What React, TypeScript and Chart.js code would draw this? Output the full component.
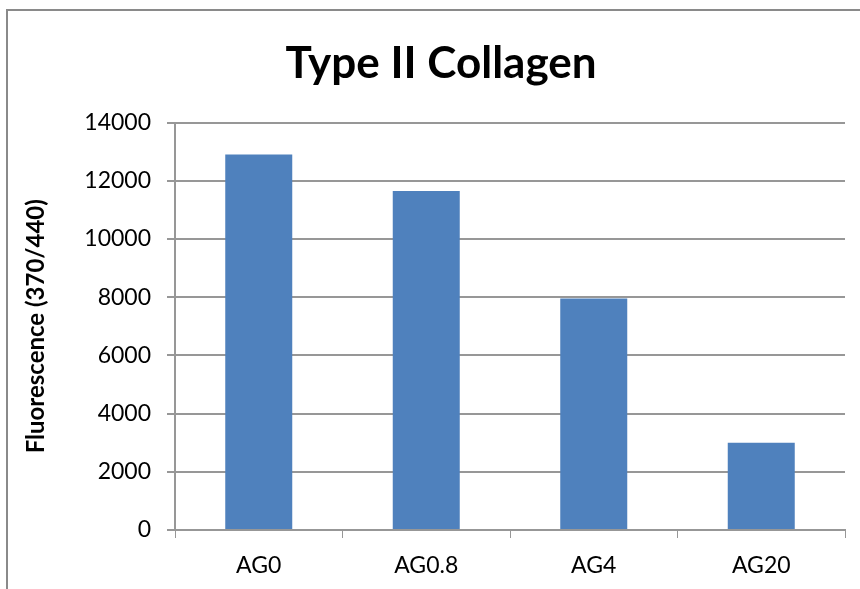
import React, { useEffect, useRef } from "react";
import { Chart, registerables } from "chart.js";

Chart.register(...registerables);

const categories = ["AG0", "AG0.8", "AG4", "AG20"];
const fluorescence = [12900, 11650, 7950, 3000];
const yTicksMax = 14000;
const yTickStep = 2000;
const chartTitle = "Type II Collagen";
const yAxisTitle = "Fluorescence (370/440)";

const GRID = "#979797";
const FONT = "Lato, 'Open Sans', sans-serif";
const PAD_LEFT = 22;

const framePlugin = {
  id: "frame",
  beforeDraw(chart: any) {
    const ctx = chart.ctx;
    ctx.save();
    ctx.fillStyle = "#ffffff";
    ctx.fillRect(0, 0, chart.width, chart.height);
    ctx.strokeStyle = "#8a8a8a";
    ctx.lineWidth = 2;
    ctx.beginPath();
    ctx.moveTo(7, chart.height);
    ctx.lineTo(7, 10);
    ctx.lineTo(chart.width, 10);
    ctx.stroke();
    ctx.restore();
  },
};

export default function App() {
  const ref = useRef<HTMLCanvasElement | null>(null);

  useEffect(() => {
    const prevMargin = document.body.style.margin;
    document.body.style.margin = "0";
    const canvas = ref.current;
    if (!canvas) return;
    const chart = new Chart(canvas, {
      type: "bar",
      data: {
        labels: categories,
        datasets: [
          {
            label: "Fluorescence",
            data: fluorescence,
            backgroundColor: "#4F81BD",
            borderWidth: 0,
            categoryPercentage: 1,
            barPercentage: 0.4,
            yAxisID: "y",
          },
        ],
      },
      options: {
        animation: false,
        responsive: false,
        layout: { padding: { left: PAD_LEFT, right: 0, top: 0, bottom: 0 } },
        plugins: {
          legend: { display: false },
          tooltip: { enabled: false },
          title: {
            display: true,
            text: chartTitle,
            color: "#000",
            font: { family: FONT, size: 44, weight: "bold", lineHeight: 1.2 },
            padding: { top: 37, bottom: 32.7 },
          },
        },
        scales: {
          x: {
            grid: {
              display: true,
              drawOnChartArea: false,
              drawTicks: true,
              tickLength: 8,
              color: GRID,
              offset: true,
            },
            border: { display: true, color: GRID, width: 2 },
            ticks: {
              color: "#000",
              font: { family: FONT, size: 23 },
              padding: 14,
              maxRotation: 0,
            },
            afterFit(scale: any) {
              scale.height = 59;
            },
          },
          y: {
            min: 0,
            max: yTicksMax,
            grid: {
              color: GRID,
              lineWidth: 2,
              drawTicks: true,
              tickLength: 8,
            },
            border: { display: true, color: GRID, width: 2 },
            ticks: {
              stepSize: yTickStep,
              color: "#000",
              font: { family: FONT, size: 23 },
              padding: 16,
              callback: (v: any) => String(v),
            },
            title: {
              display: true,
              text: yAxisTitle,
              color: "#000",
              font: { family: FONT, size: 24, weight: "bold", lineHeight: 1.2 },
              padding: { top: 0, bottom: 0 },
            },
            afterFit(scale: any) {
              scale.width = 175 - PAD_LEFT;
            },
          },
          spacer: {
            type: "linear",
            position: "right",
            display: true,
            min: 0,
            max: yTicksMax,
            grid: { display: false, drawTicks: false },
            border: { display: false },
            ticks: { display: false },
            afterFit(scale: any) {
              scale.width = 15;
            },
          },
        },
      },
      plugins: [framePlugin],
    });
    return () => {
      chart.destroy();
      document.body.style.margin = prevMargin;
    };
  }, []);

  return (
    <div style={{ position: "fixed", left: 0, top: 0, width: 860, height: 589 }}>
      <canvas ref={ref} width={860} height={589} style={{ display: "block" }} />
    </div>
  );
}
